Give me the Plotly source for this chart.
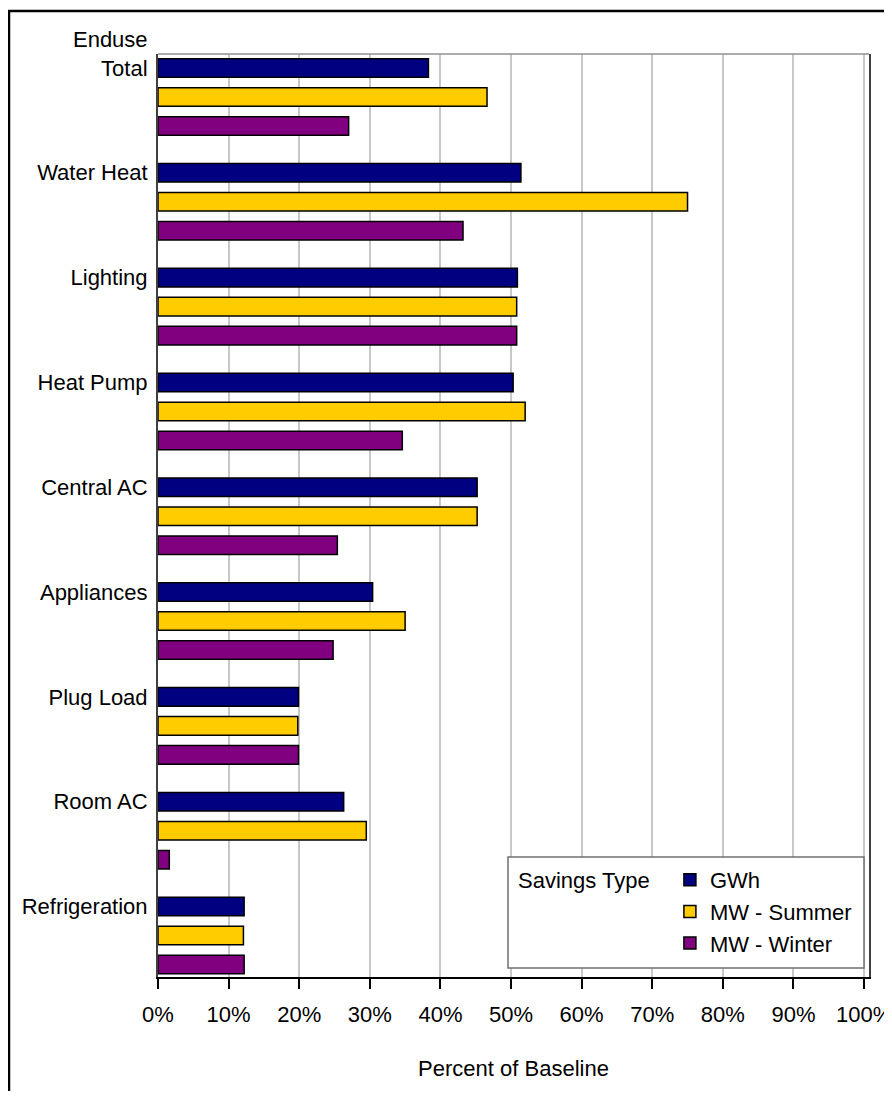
import plotly.graph_objects as go

categories = ["Total", "Water Heat", "Lighting", "Heat Pump", "Central AC",
              "Appliances", "Plug Load", "Room AC", "Refrigeration"]
tick_labels = ["Enduse<br>Total<br> ", "Water Heat", "Lighting", "Heat Pump", "Central AC",
               "Appliances", "Plug Load", "Room AC", "Refrigeration"]
gwh = [38.3, 51.4, 50.9, 50.3, 45.2, 30.4, 19.9, 26.3, 12.2]
mw_summer = [46.6, 75.0, 50.8, 52.0, 45.2, 35.0, 19.8, 29.5, 12.1]
mw_winter = [27.0, 43.2, 50.8, 34.6, 25.4, 24.8, 19.9, 1.6, 12.2]
series_names = ["GWh", "MW - Summer", "MW - Winter"]
series_colors = ["#000080", "#FFCC00", "#800080"]

FONT = "Liberation Sans, Arial, sans-serif"

fig = go.Figure()
for name, vals, col in zip(series_names, [gwh, mw_summer, mw_winter], series_colors):
    fig.add_trace(go.Bar(
        y=categories, x=vals, name=name, orientation="h",
        marker=dict(color=col, line=dict(color="black", width=1.5)),
    ))

OFF = 8  # page body margin
W, H = 892 - OFF, 1099 - 2 * OFF
# plot area in reference-screen coordinates
L, R, T, B = 158, 869, 54, 977
pw, ph = R - L, B - T

def px_x(x):
    return (x - L) / pw

def px_y(y):
    return (B - y) / ph

fig.update_layout(
    width=W, height=H,
    margin=dict(l=L - OFF, r=(892 - OFF) - (R - OFF), t=T - OFF, b=H - (B - OFF),
                autoexpand=False),
    paper_bgcolor="white", plot_bgcolor="white",
    barmode="group", bargap=0.17, bargroupgap=0.36,
    font=dict(family=FONT, size=22, color="black"),
    showlegend=True,
    legend=dict(
        x=px_x(516), y=px_y(859), xanchor="left", yanchor="top",
        bgcolor="rgba(0,0,0,0)", borderwidth=0,
        title=dict(text="Savings Type  ", side="left", font=dict(size=22)),
        font=dict(size=22), tracegroupgap=0, itemwidth=30,
    ),
    xaxis=dict(
        range=[0, 100.7], dtick=10, tick0=0, ticksuffix="%",
        showgrid=True, gridcolor="#c8c8c8", gridwidth=1.5,
        showline=True, linecolor="black", linewidth=1.5,
        ticks="outside", ticklen=10, tickcolor="black", tickwidth=1.5,
        tickfont=dict(size=22), zeroline=False, ticklabelstandoff=7,
        ticklabeloverflow="allow", automargin=False,
        title=dict(text="Percent of Baseline", font=dict(size=22), standoff=34),
    ),
    yaxis=dict(
        type="category", categoryorder="array", categoryarray=categories,
        tickvals=categories, ticktext=tick_labels,
        range=[8.396, -0.410], automargin=False,
        showgrid=False, showline=True, linecolor="#404040", linewidth=2, mirror=True,
        ticks="", tickfont=dict(size=22), ticklabelshift=29, ticklabelstandoff=4,
    ),
)

# plot-area top border (gray)
fig.add_shape(type="line", xref="paper", yref="paper", x0=0, x1=1, y0=1, y1=1,
              line=dict(color="#909090", width=1.5))
# legend box
fig.add_shape(type="rect", xref="paper", yref="paper",
              x0=px_x(508), x1=px_x(864), y0=px_y(968), y1=px_y(857),
              line=dict(color="#707070", width=1.5), fillcolor="white", layer="above")
# outer chart frame
fig.add_shape(type="rect", xref="paper", yref="paper",
              x0=px_x(9), x1=px_x(900), y0=px_y(1110), y1=px_y(11),
              line=dict(color="black", width=2.5))

fig.write_html("out.html")
